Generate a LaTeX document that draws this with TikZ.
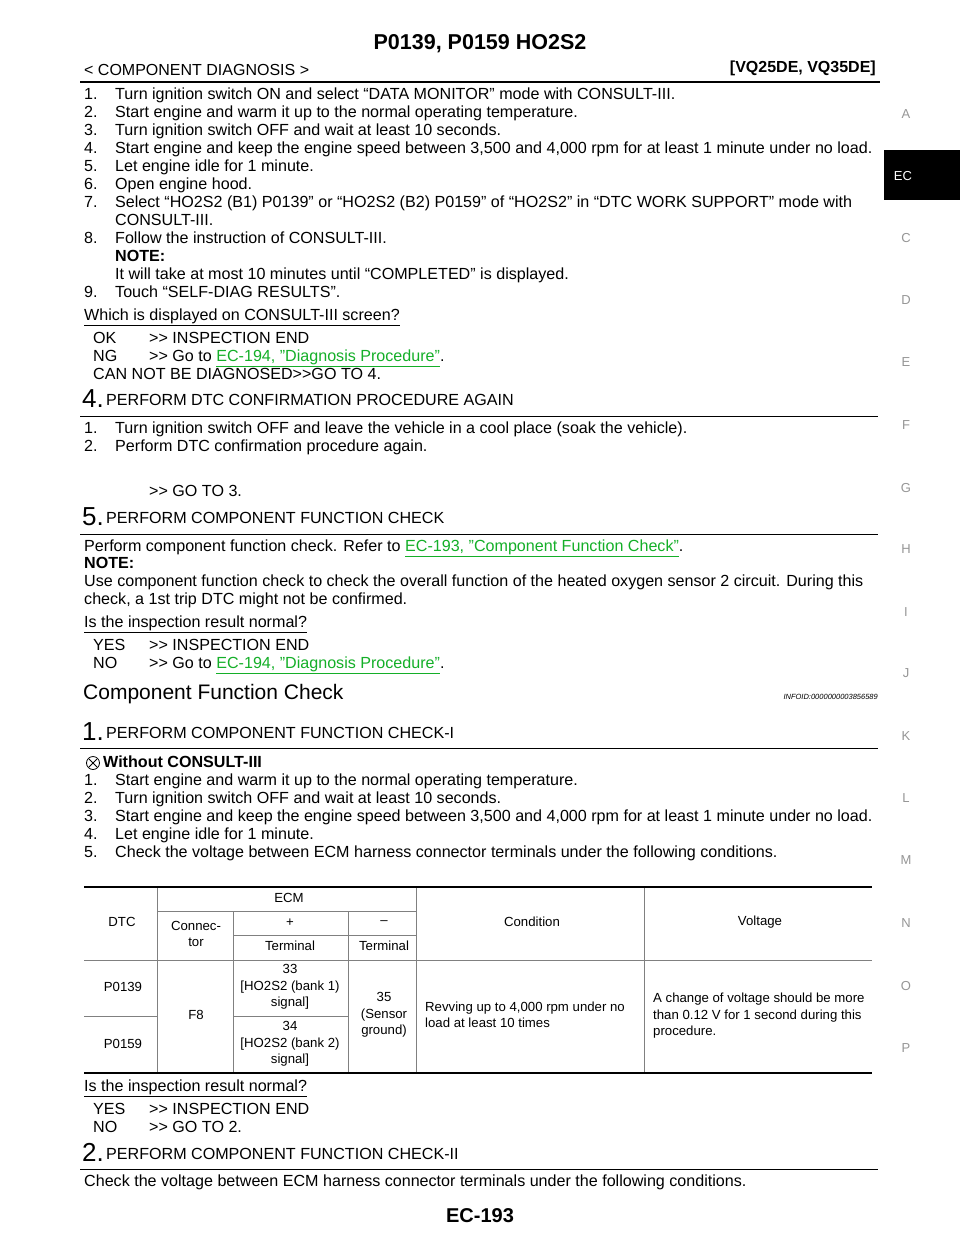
\documentclass[tikz,border=0pt]{standalone}
\usepackage{fontspec}
\setmainfont{Liberation Sans}[Ligatures=NoCommon]
\definecolor{linkgreen}{RGB}{20,175,40}
\definecolor{tabgray}{RGB}{150,150,150}
\newcommand{\lnk}[1]{\textcolor{linkgreen}{\underline{#1}}}
\newcommand{\gt}{{>}{>}}
\newcommand{\bodyfont}{\fontsize{16.1}{18}\selectfont}
\newcommand{\tabfont}{\fontsize{13.2}{16.5}\selectfont}
\begin{document}
\begin{tikzpicture}[x=1pt, y=-1pt,
    txt/.style={anchor=base west, inner sep=0pt, font=\bodyfont},
    bignum/.style={anchor=base west, inner sep=0pt, font=\fontsize{26}{26}\selectfont},
    tab/.style={inner sep=0pt, font=\tabfont, align=center},
    tabl/.style={anchor=west, inner sep=0pt, font=\tabfont, align=left},
    sidelbl/.style={inner sep=0pt, text=tabgray, font=\fontsize{13}{13}\selectfont}]
    \useasboundingbox[fill=white] (0, 0) rectangle (960, 1242);

    % header
    \node[inner sep=0pt, font=\bfseries\fontsize{21.5}{21.5}\selectfont] (title) at (480, 44) {P0139, P0159 HO2S2};
    \node[anchor=base west, inner sep=0pt, font=\fontsize{16}{16}\selectfont] (sect) at (84, 75) {< COMPONENT DIAGNOSIS >};
    \node[anchor=base east, inner sep=0pt, font=\bfseries\fontsize{16}{16}\selectfont] (eng) at (876, 72) {[VQ25DE, VQ35DE]};
    \draw[line width=2.5pt] (80, 82) -- (880, 82);

    % side tabs
    \fill (884, 150) rectangle (960, 200);
    \node[sidelbl, text=white] (tabEC) at (903, 176) {EC};
    \foreach \l/\y in {A/114, C/238, D/300, E/362, F/425, G/488, H/549, I/612, J/673, K/736, L/798, M/860, N/923, O/986, P/1048}
      \node[sidelbl] (tab\l) at (906, \y) {\l};

    % steps 1-9
    \foreach \n/\y/\t in {1./99/{Turn ignition switch ON and select “DATA MONITOR” mode with CONSULT-III.},
        2./117/{Start engine and warm it up to the normal operating temperature.},
        3./135/{Turn ignition switch OFF and wait at least 10 seconds.},
        4./153/{Start engine and keep the engine speed between 3,500 and 4,000 rpm for at least 1 minute under no load.},
        5./171/{Let engine idle for 1 minute.},
        6./189/{Open engine hood.},
        7./207/{Select “HO2S2 (B1) P0139” or “HO2S2 (B2) P0159” of “HO2S2” in “DTC WORK SUPPORT” mode with},
        8./243/{Follow the instruction of CONSULT-III.},
        9./297/{Touch “SELF-DIAG RESULTS”.}} {
      \node[txt] at (84, \y) {\n};
      \node[txt] at (115, \y) {\t};
    }
    \node[txt] (s7b) at (115, 225) {CONSULT-III.};
    \node[txt] (note1) at (115, 261) {\bfseries NOTE:};
    \node[txt] (note1t) at (115, 279) {It will take at most 10 minutes until “COMPLETED” is displayed.};
    \node[txt] (q1) at (84, 320) {\underline{Which is displayed on CONSULT-III screen?}};
    \node[txt] (ok1) at (93, 343) {OK};
    \node[txt] (ok1t) at (149, 343) {\gt{} INSPECTION END};
    \node[txt] (ng1) at (93, 361) {NG};
    \node[txt] (ng1t) at (149, 361) {\gt{} Go to \lnk{EC-194, "Diagnosis Procedure"}.};
    \node[txt] (cnb) at (93, 379) {CAN NOT BE DIAGNOSED\gt{}GO TO 4.};

    % step 4
    \node[bignum] (n4) at (82, 407) {4.};
    \node[txt] (h4) at (106, 405) {PERFORM DTC CONFIRMATION PROCEDURE AGAIN};
    \draw[line width=0.8pt] (80, 416) -- (878, 416);
    \node[txt] (a1) at (84, 433) {1.};
    \node[txt] (a1t) at (115, 433) {Turn ignition switch OFF and leave the vehicle in a cool place (soak the vehicle).};
    \node[txt] (a2) at (84, 451) {2.};
    \node[txt] (a2t) at (115, 451) {Perform DTC confirmation procedure again.};
    \node[txt] (go3) at (149, 496) {\gt{} GO TO 3.};

    % step 5
    \node[bignum] (n5) at (82, 525) {5.};
    \node[txt] (h5) at (106, 523) {PERFORM COMPONENT FUNCTION CHECK};
    \draw[line width=0.8pt] (80, 534) -- (878, 534);
    \node[txt] (p5) at (84, 551) {Perform component function check. Refer to \lnk{EC-193, "Component Function Check"}.};
    \node[txt] (note2) at (84, 568) {\bfseries NOTE:};
    \node[txt] (note2a) at (84, 586) {Use component function check to check the overall function of the heated oxygen sensor 2 circuit. During this};
    \node[txt] (note2b) at (84, 604) {check, a 1st trip DTC might not be confirmed.};
    \node[txt] (q2) at (84, 627) {\underline{Is the inspection result normal?}};
    \node[txt] (yes2) at (93, 650) {YES};
    \node[txt] (yes2t) at (149, 650) {\gt{} INSPECTION END};
    \node[txt] (no2) at (93, 668) {NO};
    \node[txt] (no2t) at (149, 668) {\gt{} Go to \lnk{EC-194, "Diagnosis Procedure"}.};

    % component function check
    \node[anchor=base west, inner sep=0pt, font=\fontsize{21}{21}\selectfont] (cfc) at (83, 699) {Component Function Check};
    \node[anchor=base east, inner sep=0pt, font=\itshape\fontsize{7.5}{7.5}\selectfont] (info) at (878, 699) {INFOID:0000000003856589};

    \node[bignum] (c1) at (82, 740) {1.};
    \node[txt] (hc1) at (106, 738) {PERFORM COMPONENT FUNCTION CHECK-I};
    \draw[line width=0.8pt] (80, 748) -- (878, 748);
    \draw[thick] (93, 763) circle (6.5);
    \draw[thick] (89, 759) -- (97, 767) (97, 759) -- (89, 767);
    \node[txt] (wo) at (103, 767) {\bfseries Without CONSULT-III};
    \foreach \n/\y/\t in {1./785/{Start engine and warm it up to the normal operating temperature.},
        2./803/{Turn ignition switch OFF and wait at least 10 seconds.},
        3./821/{Start engine and keep the engine speed between 3,500 and 4,000 rpm for at least 1 minute under no load.},
        4./839/{Let engine idle for 1 minute.},
        5./857/{Check the voltage between ECM harness connector terminals under the following conditions.}} {
      \node[txt] at (84, \y) {\n};
      \node[txt] at (115, \y) {\t};
    }

    % table
    \begin{scope}[line width=0.5pt, draw=gray]
      \draw (157, 911) -- (416, 911);
      \draw (233, 935) -- (416, 935);
      \draw (84, 960) -- (872, 960);
      \draw (84, 1016) -- (157, 1016) (233, 1016) -- (348, 1016);
      \draw (157, 887) -- (157, 1073) (416, 887) -- (416, 1073) (644, 887) -- (644, 1073);
      \draw (233, 911) -- (233, 1073) (348, 911) -- (348, 1073);
    \end{scope}
    \draw[line width=1.6pt] (84, 887) -- (872, 887);
    \draw[line width=1.6pt] (84, 1073) -- (872, 1073);
    \node[tab] (tdtc) at (122, 922) {DTC};
    \node[tab] (tecm) at (289, 898) {ECM};
    \node[tab] (tcon) at (196, 934) {Connec-\\tor};
    \node[tab] (tplus) at (290, 923) {+};
    \node[tab] (tminus) at (384, 923) {--};
    \node[tab] (tterm1) at (290, 946) {Terminal};
    \node[tab] (tterm2) at (384, 946) {Terminal};
    \node[tab] (tcond) at (532, 922) {Condition};
    \node[tab] (tvolt) at (760, 922) {Voltage};
    \node[tab] (tp139) at (123, 987) {P0139};
    \node[tab] (tp159) at (123, 1044) {P0159};
    \node[tab] (tf8) at (196, 1015) {F8};
    \node[tab] (t33) at (290, 987) {33\\{[HO2S2 (bank 1)}\\signal]};
    \node[tab] (t34) at (290, 1044) {34\\{[HO2S2 (bank 2)}\\signal]};
    \node[tab] (t35) at (384, 1015) {35\\(Sensor\\ground)};
    \node[tabl] (trev) at (425, 1015) {Revving up to 4,000 rpm under no\\load at least 10 times};
    \node[tabl] (tchg) at (653, 1016) {A change of voltage should be more\\than 0.12 V for 1 second during this\\procedure.};

    \node[txt] (q3) at (84, 1091) {\underline{Is the inspection result normal?}};
    \node[txt] (yes3) at (93, 1114) {YES};
    \node[txt] (yes3t) at (149, 1114) {\gt{} INSPECTION END};
    \node[txt] (no3) at (93, 1132) {NO};
    \node[txt] (no3t) at (149, 1132) {\gt{} GO TO 2.};

    \node[bignum] (c2) at (82, 1161) {2.};
    \node[txt] (hc2) at (106, 1159) {PERFORM COMPONENT FUNCTION CHECK-II};
    \draw[line width=0.8pt] (80, 1169) -- (878, 1169);
    \node[txt] (lastl) at (84, 1186) {Check the voltage between ECM harness connector terminals under the following conditions.};

    \node[inner sep=0pt, font=\bfseries\fontsize{20}{20}\selectfont] (pg) at (480, 1216) {EC-193};
  \end{tikzpicture}
\end{document}
